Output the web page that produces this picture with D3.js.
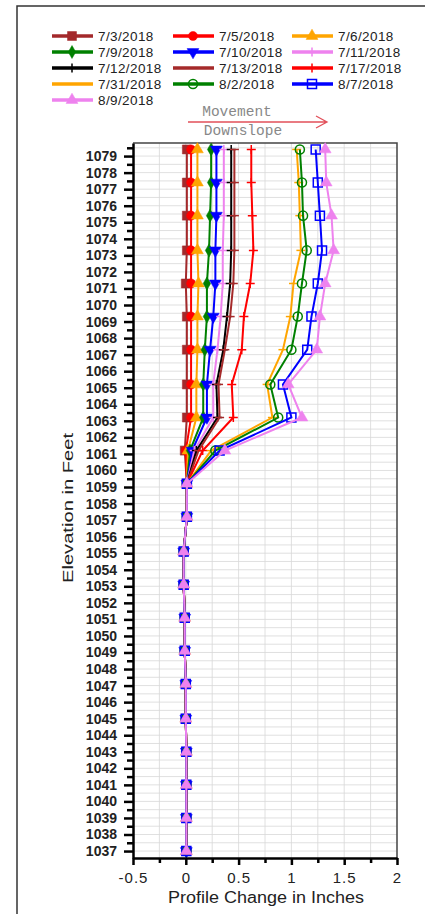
<!DOCTYPE html>
<html>
<head>
<meta charset="utf-8">
<script src="https://cdn.jsdelivr.net/npm/d3@7"></script>
<style>
  body { margin: 0; background: #fff; }
  text { font-family: "Liberation Sans", Arial, sans-serif; }
</style>
</head>
<body>
<div id="chart"></div>
<script>
// Survey dates (legend order)
const dates = ['7/3/2018', '7/5/2018', '7/6/2018', '7/9/2018', '7/10/2018', '7/11/2018', '7/12/2018',
    '7/13/2018', '7/17/2018', '7/31/2018', '8/2/2018', '8/7/2018', '8/9/2018'];

// Elevation of each reading (feet)
const elevations = [1079.4, 1077.4, 1075.4, 1073.3, 1071.3, 1069.3, 1067.3, 1065.2, 1063.2, 1061.2, 1059.2,
    1057.2, 1055.1, 1053.1, 1051.1, 1049.1, 1047.1, 1045.0, 1043.0, 1041.0, 1039.0, 1037.0];

// Profile change (inches), one array per date
const d0703 = [0.01, 0.01, 0.01, 0.01, 0.00, 0.01, 0.01, 0.01, 0.01, -0.01, 0.01, 0.01, -0.02, -0.02, -0.01, -0.01, 0.00, 0.00, 0.005, 0.005, 0.005, 0.005];
const d0705 = [0.05, 0.05, 0.05, 0.05, 0.05, 0.05, 0.05, 0.05, 0.05, 0.00, 0.01, 0.01, -0.02, -0.02, -0.01, -0.01, 0.00, 0.00, 0.005, 0.005, 0.005, 0.005];
const d0706 = [0.11, 0.11, 0.11, 0.11, 0.12, 0.11, 0.11, 0.10, 0.10, 0.02, 0.01, 0.01, -0.02, -0.02, -0.01, -0.01, 0.00, 0.00, 0.005, 0.005, 0.005, 0.005];
const d0709 = [0.24, 0.24, 0.23, 0.22, 0.20, 0.20, 0.18, 0.165, 0.165, 0.04, 0.01, 0.01, -0.02, -0.02, -0.01, -0.01, 0.00, 0.00, 0.005, 0.005, 0.005, 0.005];
const d0710 = [0.29, 0.29, 0.29, 0.28, 0.28, 0.26, 0.23, 0.20, 0.20, 0.06, 0.01, 0.01, -0.02, -0.02, -0.01, -0.01, 0.00, 0.00, 0.005, 0.005, 0.005, 0.005];
const d0711 = [0.36, 0.36, 0.36, 0.35, 0.35, 0.33, 0.30, 0.26, 0.26, 0.08, 0.01, 0.01, -0.02, -0.02, -0.01, -0.01, 0.00, 0.00, 0.005, 0.005, 0.005, 0.005];
const d0712 = [0.43, 0.43, 0.43, 0.43, 0.42, 0.39, 0.355, 0.29, 0.30, 0.10, 0.01, 0.01, -0.02, -0.02, -0.01, -0.01, 0.00, 0.00, 0.005, 0.005, 0.005, 0.005];
const d0713 = [0.46, 0.46, 0.46, 0.46, 0.45, 0.42, 0.37, 0.31, 0.32, 0.12, 0.01, 0.01, -0.02, -0.02, -0.01, -0.01, 0.00, 0.00, 0.005, 0.005, 0.005, 0.005];
const d0717 = [0.62, 0.62, 0.63, 0.64, 0.61, 0.55, 0.53, 0.435, 0.45, 0.16, 0.01, 0.01, -0.02, -0.02, -0.01, -0.01, 0.00, 0.00, 0.005, 0.005, 0.005, 0.005];
const d0731 = [1.05, 1.07, 1.08, 1.09, 1.02, 0.99, 0.92, 0.77, 0.82, 0.24, 0.01, 0.01, -0.02, -0.02, -0.01, -0.01, 0.00, 0.00, 0.005, 0.005, 0.005, 0.005];
const d0802 = [1.08, 1.10, 1.11, 1.145, 1.10, 1.06, 1.00, 0.80, 0.875, 0.28, 0.01, 0.01, -0.02, -0.02, -0.01, -0.01, 0.00, 0.00, 0.005, 0.005, 0.005, 0.005];
const d0807 = [1.23, 1.25, 1.27, 1.29, 1.25, 1.19, 1.15, 0.92, 1.00, 0.32, 0.01, 0.01, -0.02, -0.02, -0.01, -0.01, 0.00, 0.00, 0.005, 0.005, 0.005, 0.005];
const d0809 = [1.32, 1.33, 1.38, 1.40, 1.32, 1.27, 1.24, 0.97, 1.10, 0.37, 0.01, 0.01, -0.02, -0.02, -0.01, -0.01, 0.00, 0.00, 0.005, 0.005, 0.005, 0.005];

// Tick values
const xTicks = [-0.5, 0, 0.5, 1, 1.5, 2];
const xMinor = [-0.25, 0.25, 0.75, 1.25, 1.75];
const yTicks = d3.range(1037, 1080);
const yMinor = d3.range(1037.5, 1079.6, 1);

const seriesValues = [d0703, d0705, d0706, d0709, d0710, d0711, d0712, d0713, d0717, d0731, d0802, d0807, d0809];
const colors = ['#a3292b', '#ff0000', '#ffa500', '#008000', '#0000ff', '#ee82ee', '#000000',
    '#a52a2a', '#ff0000', '#ffa500', '#008000', '#0000ff', '#ee82ee'];
const markers = ['square', 'circle', 'triangle', 'diamond', 'triangleDown', 'plus', 'plus',
    'dash', 'plus', 'dash', 'openCircle', 'openSquare', 'triangle'];

const series = dates.map((d, i) => ({
    name: d,
    color: colors[i],
    marker: markers[i],
    points: elevations.map((e, j) => ({ e: e, v: seriesValues[i][j] }))
}));

const svg = d3.select('#chart').append('svg')
    .attr('width', 425)
    .attr('height', 914);

// Outer frame
svg.append('path')
    .attr('d', 'M17,914V6H425')
    .attr('fill', 'none')
    .attr('stroke', '#333')
    .attr('stroke-width', 1.5);

// Scales
const x = d3.scaleLinear().domain([-0.5, 2]).range([133, 397]);
const y = d3.scaleLinear().domain([1036.58, 1079.79]).range([858, 143]);

// Grid
const grid = svg.append('g').attr('stroke', '#d8d8d8').attr('stroke-width', 0.8);
grid.selectAll('.gx')
    .data(d3.range(-0.25, 2, 0.25))
    .enter().append('line')
    .attr('x1', d => x(d)).attr('x2', d => x(d))
    .attr('y1', y.range()[1]).attr('y2', y.range()[0]);
grid.selectAll('.gy')
    .data(d3.range(1037, 1079.8, 0.5))
    .enter().append('line')
    .attr('x1', x.range()[0]).attr('x2', x.range()[1])
    .attr('y1', d => y(d)).attr('y2', d => y(d));

// Top and right frame of plot
svg.append('path')
    .attr('d', `M${x.range()[0]},${y.range()[1]}H${x.range()[1]}V${y.range()[0]}`)
    .attr('fill', 'none')
    .attr('stroke', '#444')
    .attr('stroke-width', 1.5);

// Marker shapes
function markerPath(type, s) {
    switch (type) {
        case 'square': case 'openSquare': return d3.symbol(d3.symbolSquare, s * s)();
        case 'circle': case 'openCircle': return d3.symbol(d3.symbolCircle, s * s * 0.8)();
        case 'triangle': return d3.symbol(d3.symbolTriangle, s * s * 0.75)();
        case 'triangleDown': return d3.symbol(d3.symbolTriangle, s * s * 0.75)().replace(/(-?\d+\.?\d*),(-?\d+\.?\d*)/g, (m, a, b) => a + ',' + (-b));
        case 'diamond': return d3.symbol(d3.symbolDiamond, s * s * 0.6)();
        case 'plus': return `M${-s / 2},0H${s / 2}M0,${-s / 2}V${s / 2}`;
        case 'dash': return `M${-s / 2},0H${s / 2}`;
    }
}
const isStroked = t => t === 'plus' || t === 'dash' || t === 'openCircle' || t === 'openSquare';

// Lines
const line = d3.line().x(d => x(d.v)).y(d => y(d.e));
const plot = svg.append('g');
series.forEach(s => {
    const g = plot.append('g');
    g.append('path')
        .datum(s.points)
        .attr('fill', 'none')
        .attr('stroke', s.color)
        .attr('stroke-width', 2)
        .attr('d', line);
    g.selectAll('.m')
        .data(s.points)
        .enter().append('path')
        .attr('transform', d => `translate(${x(d.v)},${y(d.e)})`)
        .attr('d', markerPath(s.marker, 9))
        .attr('fill', isStroked(s.marker) ? 'none' : s.color)
        .attr('stroke', s.color)
        .attr('stroke-width', isStroked(s.marker) ? 1.5 : 0.5);
});

// X axis
const xAxis = svg.append('g')
    .attr('transform', 'translate(0,' + y.range()[0] + ')')
    .call(d3.axisBottom(x).tickValues(xTicks).tickSize(7).tickSizeOuter(0).tickFormat(d => String(d)));
xAxis.select('.domain').attr('stroke-width', 2.5);
xAxis.selectAll('.tick line').attr('stroke-width', 2.5);
xAxis.selectAll('text').attr('font-size', 15).attr('letter-spacing', 1).attr('fill', '#222').attr('dy', '1.0em')
    .style('font-family', '"Liberation Sans", Arial, sans-serif');
svg.append('g')
    .attr('transform', 'translate(0,' + y.range()[0] + ')')
    .call(d3.axisBottom(x).tickValues(xMinor).tickSize(5).tickFormat(''))
    .call(g => g.select('.domain').remove())
    .selectAll('line').attr('stroke-width', 2.5);

// Y axis
const yAxis = svg.append('g')
    .attr('transform', 'translate(' + x.range()[0] + ',0)')
    .call(d3.axisLeft(y).tickValues(yTicks).tickSize(9).tickSizeOuter(0).tickPadding(7).tickFormat(d => String(d)));
yAxis.select('.domain').attr('stroke-width', 2.5);
yAxis.selectAll('.tick line').attr('stroke-width', 2.5);
yAxis.selectAll('text').attr('font-size', 14).attr('font-weight', 'bold').attr('fill', '#222')
    .style('font-family', '"Liberation Sans", Arial, sans-serif');
svg.append('g')
    .attr('transform', 'translate(' + x.range()[0] + ',0)')
    .call(d3.axisLeft(y).tickValues(yMinor).tickSize(6).tickFormat(''))
    .call(g => g.select('.domain').remove())
    .selectAll('line').attr('stroke-width', 2.5);

// Axis titles
svg.append('text')
    .attr('x', 266).attr('y', 903)
    .attr('text-anchor', 'middle')
    .attr('font-size', 16)
    .attr('textLength', 196)
    .attr('lengthAdjust', 'spacingAndGlyphs')
    .attr('fill', '#222')
    .text('Profile Change in Inches');
svg.append('text')
    .attr('transform', 'translate(73,508) rotate(-90)')
    .attr('text-anchor', 'middle')
    .attr('font-size', 15)
    .attr('textLength', 150)
    .attr('lengthAdjust', 'spacingAndGlyphs')
    .attr('fill', '#222')
    .text('Elevation in Feet');

// Movement annotation
const mono = '"Liberation Mono", "DejaVu Sans Mono", monospace';
svg.append('text')
    .attr('x', 237).attr('y', 116)
    .attr('text-anchor', 'middle')
    .attr('font-size', 14.5)
    .attr('fill', '#888')
    .style('font-family', mono)
    .text('Movement');
svg.append('text')
    .attr('x', 243).attr('y', 135)
    .attr('text-anchor', 'middle')
    .attr('font-size', 14.5)
    .attr('fill', '#888')
    .style('font-family', mono)
    .text('Downslope');
svg.append('path')
    .attr('d', 'M188,122H326M316,116L327,122L316,128')
    .attr('fill', 'none')
    .attr('stroke', '#e2505a')
    .attr('stroke-width', 1.3);

// Legend
const legendCols = [52, 173, 292];
const legend = svg.append('g');
series.forEach((s, i) => {
    const lx = legendCols[i % 3], ly = 36 + Math.floor(i / 3) * 16;
    const g = legend.append('g').attr('transform', `translate(${lx},${ly})`);
    g.append('line')
        .attr('x1', 0).attr('x2', 41)
        .attr('stroke', s.color)
        .attr('stroke-width', 3.5);
    g.append('path')
        .attr('transform', 'translate(20,0)')
        .attr('d', markerPath(s.marker, 9))
        .attr('fill', isStroked(s.marker) ? 'none' : s.color)
        .attr('stroke', s.color)
        .attr('stroke-width', isStroked(s.marker) ? 1.5 : 0.5);
    g.append('text')
        .attr('x', 46).attr('dy', '0.36em')
        .attr('font-size', 13.5)
        .attr('letter-spacing', 0.4)
        .attr('fill', '#222')
        .text(s.name);
});
</script>
</body>
</html>
